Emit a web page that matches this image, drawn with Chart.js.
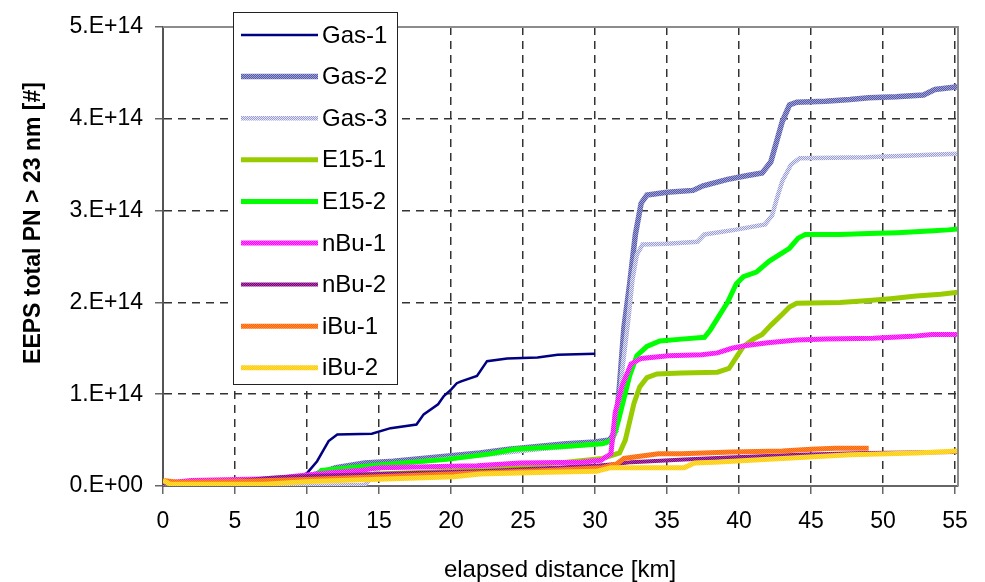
<!DOCTYPE html>
<html>
<head>
<meta charset="utf-8">
<title>EEPS total PN &gt; 23 nm</title>
<script src="https://cdn.jsdelivr.net/npm/chart.js@4.4.1/dist/chart.umd.min.js"></script>
<style>
  html, body { margin: 0; padding: 0; background: #fff; }
  #wrap { width: 985px; height: 582px; }
</style>
</head>
<body>
<div id="wrap"><canvas id="cPn" width="985" height="582"></canvas></div>
<script>
/* Cumulative EEPS particle number (> 23 nm) over elapsed distance.
   Distances in km, PN in units of 1e14 particles. */

const X_TICKS = [0, 5, 10, 15, 20, 25, 30, 35, 40, 45, 50, 55];
const Y_TICKS = [0, 1, 2, 3, 4, 5];

const gas1Km = [0, 5, 9, 10, 10.7, 11.1, 11.5, 12.1, 14.5, 15.8, 17.6, 18.1, 19.1, 19.5, 20, 20.4, 20.7, 21.8, 22.5, 23.9, 26, 27.4, 30];
const gas1Pn = [0.02, 0.04, 0.06, 0.14, 0.27, 0.38, 0.49, 0.56, 0.57, 0.63, 0.67, 0.78, 0.89, 0.98, 1.05, 1.12, 1.14, 1.2, 1.36, 1.39, 1.4, 1.43, 1.44];

const gas2Km = [0, 5, 10, 12, 14, 16, 18, 20, 22, 24, 26, 28, 30, 31, 31.4, 31.7, 32, 32.4, 32.8, 33.2, 33.6, 35, 36.8, 37.5, 39.2, 40.5, 41.6, 42.2, 42.6, 43, 43.5, 44, 46, 47.7, 49, 50.9, 52.8, 53.6, 55.2];
const gas2Pn = [0.03, 0.05, 0.1, 0.2, 0.25, 0.27, 0.3, 0.33, 0.36, 0.4, 0.43, 0.46, 0.48, 0.5, 0.6, 1.1, 1.72, 2.2, 2.74, 3.08, 3.17, 3.2, 3.22, 3.27, 3.34, 3.38, 3.41, 3.53, 3.75, 3.97, 4.15, 4.18, 4.19, 4.21, 4.23, 4.24, 4.26, 4.32, 4.35];

const gas3Km = [0, 10, 14, 15.2, 17, 20, 23, 26, 29, 31, 31.5, 31.9, 32.3, 32.6, 32.9, 33.3, 35, 37.1, 37.6, 39.7, 41.8, 42.3, 42.6, 43, 43.6, 44.2, 48.8, 52, 53.7, 55.2];
const gas3Pn = [0.0, 0.0, 0.01, 0.22, 0.25, 0.3, 0.35, 0.4, 0.44, 0.47, 0.6, 1.28, 1.8, 2.25, 2.52, 2.63, 2.64, 2.66, 2.74, 2.79, 2.85, 2.95, 3.12, 3.32, 3.5, 3.57, 3.58, 3.6, 3.61, 3.62];

const e151Km = [0, 8, 11, 15, 20, 25, 28, 30.5, 31.7, 32.1, 32.4, 32.7, 33.1, 33.6, 34.3, 36, 38.5, 39.3, 39.8, 40.3, 41, 41.6, 42.2, 43, 43.5, 44, 47, 49, 50.5, 52.3, 54, 55.2];
const e151Pn = [0.02, 0.05, 0.1, 0.13, 0.16, 0.22, 0.26, 0.3, 0.36, 0.5, 0.7, 0.9, 1.08, 1.18, 1.22, 1.23, 1.24, 1.28, 1.4, 1.52, 1.6, 1.65, 1.75, 1.87, 1.95, 1.99, 2.0, 2.02, 2.04, 2.07, 2.09, 2.11];

const e152Km = [0, 8, 10.5, 11, 15, 19.7, 22.7, 24.4, 27.8, 30.5, 31.2, 31.6, 32, 32.4, 32.9, 33.6, 34.5, 36, 37.6, 38, 38.6, 39.2, 39.8, 40.3, 41.2, 42.1, 43.5, 44.1, 44.6, 47, 49, 51, 53.5, 54.5, 55.2];
const e152Pn = [0.03, 0.06, 0.1, 0.17, 0.23, 0.29, 0.35, 0.4, 0.43, 0.46, 0.5, 0.7, 0.95, 1.2, 1.42, 1.52, 1.58, 1.6, 1.62, 1.7, 1.85, 2.0, 2.2, 2.28, 2.33, 2.45, 2.59, 2.7, 2.74, 2.74, 2.75, 2.76, 2.78, 2.79, 2.8];

const nbu1Km = [0, 2, 7.5, 10, 12, 13.7, 15, 21.8, 24.8, 29, 30.4, 31.1, 31.4, 31.9, 32.5, 33.2, 35.1, 37.4, 38.5, 39.5, 40.5, 42, 44, 46, 49.3, 52, 53.4, 55.2];
const nbu1Pn = [0.03, 0.06, 0.08, 0.12, 0.15, 0.17, 0.2, 0.22, 0.25, 0.26, 0.28, 0.35, 0.8, 1.1, 1.33, 1.39, 1.42, 1.43, 1.45, 1.5, 1.53, 1.56, 1.59, 1.6, 1.61, 1.63, 1.65, 1.65];

const nbu2Km = [0, 5, 7.5, 10, 15, 22, 26.2, 30.1, 31.5, 32.5, 36.2, 39.3, 44.2, 48.8, 55.2];
const nbu2Pn = [0.03, 0.05, 0.09, 0.11, 0.13, 0.16, 0.19, 0.22, 0.24, 0.26, 0.29, 0.31, 0.34, 0.36, 0.37];

const ibu1Km = [0, 1, 5, 10, 15, 20, 26.7, 30.5, 31.5, 32, 34.4, 36, 39.5, 43, 45, 46.7, 49];
const ibu1Pn = [0.06, 0.04, 0.05, 0.07, 0.1, 0.13, 0.17, 0.2, 0.24, 0.3, 0.35, 0.35, 0.37, 0.38, 0.4, 0.41, 0.41];

const ibu2Km = [0, 0.5, 7, 10.2, 16, 20.2, 22, 26.7, 30.1, 31.1, 36.2, 36.9, 38.3, 43, 47.7, 52.3, 55.2];
const ibu2Pn = [0.06, 0.02, 0.02, 0.05, 0.08, 0.1, 0.13, 0.15, 0.16, 0.2, 0.2, 0.25, 0.26, 0.3, 0.34, 0.36, 0.38];

const FONT = "'Liberation Sans', Arial, sans-serif";

// 2x2 checker texture, gives the dotted look of the thick series
function texture(a, b) {
  const c = document.createElement('canvas');
  c.width = 2; c.height = 2;
  const g = c.getContext('2d');
  g.fillStyle = a; g.fillRect(0, 0, 2, 2);
  g.fillStyle = b; g.fillRect(0, 0, 1, 1); g.fillRect(1, 1, 1, 1);
  return g.createPattern(c, 'repeat');
}

function pts(km, pn) {
  return km.map((x, i) => ({ x: x, y: pn[i] }));
}

const series = [
  { label: 'Gas-1', data: pts(gas1Km, gas1Pn), color: '#000080', width: 2.5 },
  { label: 'Gas-2', data: pts(gas2Km, gas2Pn), color: texture('#5559a6', '#9fa2d6'), width: 5.5 },
  { label: 'Gas-3', data: pts(gas3Km, gas3Pn), color: texture('#989cd2', '#e6e7f6'), width: 4.5 },
  { label: 'E15-1', data: pts(e151Km, e151Pn), color: '#99cc00', width: 5 },
  { label: 'E15-2', data: pts(e152Km, e152Pn), color: '#00ff00', width: 5 },
  { label: 'nBu-1', data: pts(nbu1Km, nbu1Pn), color: texture('#ff00ff', '#ff5cff'), width: 5 },
  { label: 'nBu-2', data: pts(nbu2Km, nbu2Pn), color: texture('#800080', '#a844a8'), width: 4 },
  { label: 'iBu-1', data: pts(ibu1Km, ibu1Pn), color: texture('#ff6600', '#ff8a3d'), width: 5 },
  { label: 'iBu-2', data: pts(ibu2Km, ibu2Pn), color: texture('#ffcc00', '#ffdc4d'), width: 5 }
];

/* ── grey frame on top / right of the plot area ── */
const frame = {
  id: 'frame',
  afterDatasetsDraw(chart) {
    const { ctx, chartArea: a } = chart;
    ctx.save();
    ctx.strokeStyle = '#8c8c8c';
    ctx.lineWidth = 2;
    ctx.beginPath();
    ctx.moveTo(a.left, a.top);
    ctx.lineTo(a.right, a.top);
    ctx.lineTo(a.right, a.bottom);
    ctx.stroke();
    ctx.restore();
  }
};

/* ── boxed legend inside the plot ── */
const boxLegend = {
  id: 'boxLegend',
  afterDraw(chart) {
    const ctx = chart.ctx;
    const sets = chart.data.datasets;
    ctx.save();
    ctx.fillStyle = '#fff';
    ctx.fillRect(233, 12, 164, 372);
    ctx.strokeStyle = '#222';
    ctx.lineWidth = 1;
    ctx.strokeRect(233.5, 12.5, 164, 372);
    ctx.font = '24px ' + FONT;
    ctx.textBaseline = 'middle';
    ctx.textAlign = 'left';
    sets.forEach((ds, i) => {
      const y = 35 + i * 41.6;
      ctx.strokeStyle = ds.borderColor;
      ctx.lineWidth = ds.borderWidth;
      ctx.beginPath();
      ctx.moveTo(241, y);
      ctx.lineTo(318, y);
      ctx.stroke();
      ctx.fillStyle = '#000';
      ctx.fillText(ds.label, 322, y + 1);
    });
    ctx.restore();
  }
};

/* ── axis titles ── */
const axisTitles = {
  id: 'axisTitles',
  afterDraw(chart) {
    const ctx = chart.ctx;
    ctx.save();
    ctx.fillStyle = '#000';
    ctx.textAlign = 'center';
    ctx.textBaseline = 'middle';
    ctx.font = '24px ' + FONT;
    ctx.fillText('elapsed distance [km]', 560, 570);
    ctx.translate(34, 223);
    ctx.rotate(-Math.PI / 2);
    ctx.font = 'bold 23px ' + FONT;
    ctx.fillText('EEPS total PN > 23 nm [#]', 0, 0);
    ctx.restore();
  }
};

new Chart(document.getElementById('cPn'), {
  type: 'line',
  data: {
    datasets: series.map((s, i) => ({
      label: s.label,
      data: s.data,
      borderColor: s.color,
      backgroundColor: s.color,
      borderWidth: s.width,
      pointRadius: 0,
      tension: 0,
      fill: false,
      order: series.length - i
    }))
  },
  options: {
    responsive: false,
    animation: false,
    devicePixelRatio: 1,
    layout: { padding: { top: 27, right: 27, left: 0, bottom: 0 } },
    plugins: { legend: { display: false }, tooltip: { enabled: false } },
    scales: {
      x: {
        type: 'linear',
        min: 0,
        max: 55.2,
        afterBuildTicks: sc => { sc.ticks = X_TICKS.map(v => ({ value: v })); },
        afterFit: sc => { sc.height = 96; },
        ticks: {
          font: { size: 23, family: FONT },
          color: '#000',
          padding: 14,
          maxRotation: 0,
          autoSkip: false
        },
        grid: { color: '#333', lineWidth: 1.5, tickLength: 8, tickColor: '#666', tickWidth: 1.5, tickBorderDash: [] },
        border: { color: '#666', width: 2, dash: [8, 6] }
      },
      y: {
        min: 0,
        max: 5,
        afterBuildTicks: sc => { sc.ticks = Y_TICKS.map(v => ({ value: v })); },
        afterFit: sc => { sc.width = 163; },
        ticks: {
          font: { size: 23, family: FONT },
          color: '#000',
          padding: 12,
          callback: v => v === 0 ? '0.E+00' : v + '.E+14'
        },
        grid: { color: '#333', lineWidth: 1.5, tickLength: 8, tickColor: '#666', tickWidth: 1.5, tickBorderDash: [] },
        border: { color: '#555', width: 2, dash: [8, 6] }
      }
    }
  },
  plugins: [frame, boxLegend, axisTitles]
});
</script>
</body>
</html>
